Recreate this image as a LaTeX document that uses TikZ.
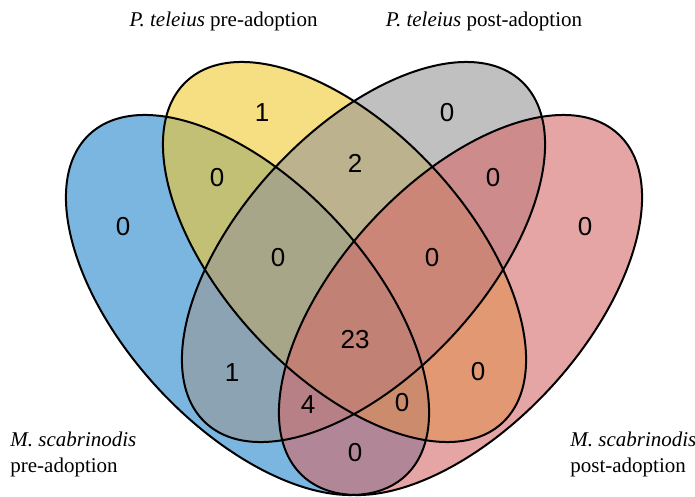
\documentclass[tikz,border=0pt]{standalone}
\usepackage{fontspec}
\setmainfont{Liberation Serif}
\newfontfamily\countfont{Liberation Sans}
\definecolor{preMs}{RGB}{35,133,203}
\definecolor{prePt}{RGB}{240,200,47}
\definecolor{postPt}{RGB}{150,150,150}
\definecolor{postMs}{RGB}{213,105,105}
\tikzstyle{setfill}=[fill opacity=0.6]
\tikzstyle{setline}=[draw=black,line width=1pt]
\tikzstyle{count}=[font=\countfont\fontsize{13}{15}\selectfont,inner sep=0pt]
\tikzstyle{setname}=[font=\fontsize{10.5}{13}\selectfont,inner sep=0pt,align=left]

\begin{document}
\begin{tikzpicture}[x=0.5pt,y=0.5pt]
  \useasboundingbox (0,0) rectangle (695,497);
  \coordinate (cA) at (247.5,192);
  \coordinate (cB) at (344.5,245);
  \coordinate (cC) at (363.5,245);
  \coordinate (cD) at (460.5,192);

  \fill[preMs,setfill,rotate around={132.7:(cA)}] (cA) ellipse [x radius=232.6,y radius=122.3];
  \fill[prePt,setfill,rotate around={132.7:(cB)}] (cB) ellipse [x radius=232.6,y radius=122.3];
  \fill[postPt,setfill,rotate around={47.3:(cC)}] (cC) ellipse [x radius=232.6,y radius=122.3];
  \fill[postMs,setfill,rotate around={47.3:(cD)}] (cD) ellipse [x radius=232.6,y radius=122.3];
  \draw[setline,rotate around={132.7:(cA)}] (cA) ellipse [x radius=232.6,y radius=122.3];
  \draw[setline,rotate around={132.7:(cB)}] (cB) ellipse [x radius=232.6,y radius=122.3];
  \draw[setline,rotate around={47.3:(cC)}] (cC) ellipse [x radius=232.6,y radius=122.3];
  \draw[setline,rotate around={47.3:(cD)}] (cD) ellipse [x radius=232.6,y radius=122.3];

  \node[count] (nB) at (262,384) {1};
  \node[count] (nC) at (447,384) {0};
  \node[count] (nA) at (123,270) {0};
  \node[count] (nD) at (585,270) {0};
  \node[count] (nAB) at (217,319) {0};
  \node[count] (nBC) at (355,334) {2};
  \node[count] (nCD) at (493,319) {0};
  \node[count] (nABC) at (278,239) {0};
  \node[count] (nBCD) at (432,239) {0};
  \node[count] (nABCD) at (355,157) {23};
  \node[count] (nAC) at (232,124) {1};
  \node[count] (nBD) at (478,125) {0};
  \node[count] (nACD) at (308,92) {4};
  \node[count] (nABD) at (402,94) {0};
  \node[count] (nAD) at (355,44) {0};

  \node[setname,anchor=base] (lB) at (223.5,470) {\textit{P. teleius} pre-adoption};
  \node[setname,anchor=base] (lC) at (484,470) {\textit{P. teleius} post-adoption};
  \node[setname,anchor=base west] (lA) at (10,24) {\textit{M. scabrinodis}\\pre-adoption};
  \node[setname,anchor=base west] (lD) at (570,24) {\textit{M. scabrinodis}\\post-adoption};
\end{tikzpicture}
\end{document}
